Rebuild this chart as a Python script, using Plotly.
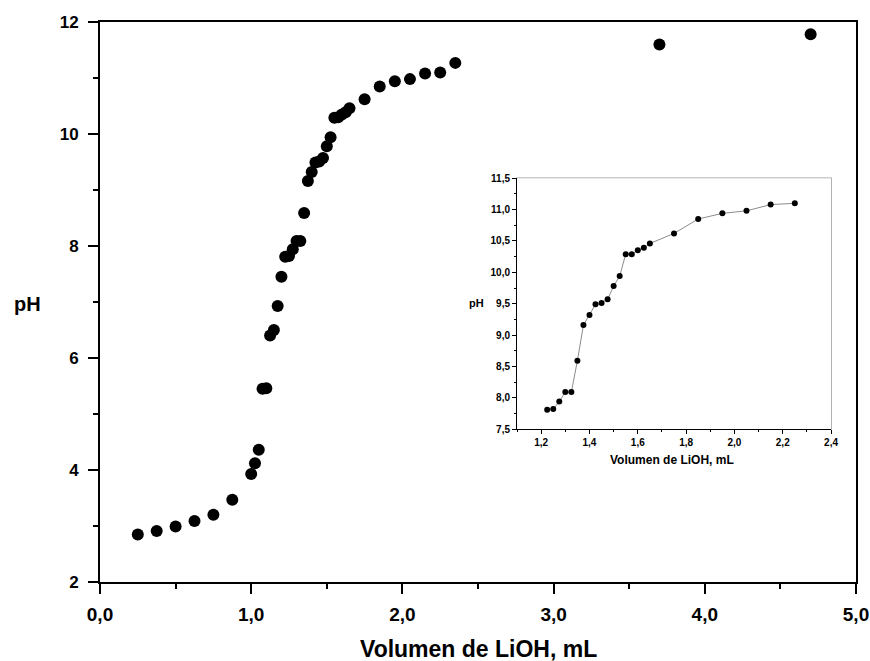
import plotly.graph_objects as go

# Main titration curve
vol_main = [0.25, 0.375, 0.5, 0.625, 0.75, 0.875, 1.0, 1.025, 1.05, 1.075, 1.1, 1.125, 1.15, 1.175, 1.2,
            1.225, 1.25, 1.275, 1.3, 1.325, 1.35, 1.375, 1.4, 1.425, 1.45, 1.475, 1.5, 1.525, 1.55,
            1.575, 1.6, 1.625, 1.65, 1.75, 1.85, 1.95, 2.05, 2.15, 2.25, 2.35, 3.7, 4.7]
ph_main = [2.85, 2.91, 2.99, 3.09, 3.2, 3.47, 3.93, 4.12, 4.36, 5.45, 5.46, 6.4, 6.5, 6.93, 7.45,
           7.81, 7.82, 7.94, 8.09, 8.09, 8.59, 9.16, 9.32, 9.49, 9.51, 9.57, 9.78, 9.94, 10.29,
           10.3, 10.35, 10.39, 10.46, 10.62, 10.85, 10.94, 10.98, 11.08, 11.1, 11.27, 11.6, 11.78]

# Inset (zoom of the equivalence region)
vol_inset = [1.225, 1.25, 1.275, 1.3, 1.325, 1.35, 1.375, 1.4, 1.425, 1.45, 1.475, 1.5, 1.525, 1.55,
             1.575, 1.6, 1.625, 1.65, 1.75, 1.85, 1.95, 2.05, 2.15, 2.25]
ph_inset = [7.81, 7.82, 7.94, 8.09, 8.09, 8.59, 9.16, 9.32, 9.49, 9.51, 9.57, 9.78, 9.94, 10.29,
            10.29, 10.35, 10.39, 10.46, 10.62, 10.85, 10.94, 10.98, 11.08, 11.1]

main_xticks = [0, 1, 2, 3, 4, 5]
main_yticks = [2, 4, 6, 8, 10, 12]
inset_xticks = [1.2, 1.4, 1.6, 1.8, 2.0, 2.2, 2.4]
inset_yticks = [7.5, 8.0, 8.5, 9.0, 9.5, 10.0, 10.5, 11.0, 11.5]

x_title = "Volumen de LiOH, mL"
y_title = "pH"

sans = "Liberation Sans, Arial, sans-serif"

def bold(size):
    return dict(family=sans, size=size, color="black", weight="bold")

fig = go.Figure()
fig.add_trace(go.Scatter(x=vol_main, y=ph_main, mode="markers",
                         marker=dict(size=12, color="black"), xaxis="x", yaxis="y",
                         showlegend=False))
fig.add_trace(go.Scatter(x=vol_inset, y=ph_inset, mode="lines+markers",
                         marker=dict(size=6, color="black"),
                         line=dict(color="#8c8c8c", width=1), xaxis="x2", yaxis="y2",
                         showlegend=False))

fig.update_layout(
    width=870, height=661,
    margin=dict(l=100, r=14, t=22, b=79),
    paper_bgcolor="white", plot_bgcolor="white",
    separators=",.",
    xaxis=dict(range=[0, 5], tickvals=main_xticks, tickformat=".1f", automargin=False,
               showline=True, linecolor="black", linewidth=2, mirror=True,
               ticks="outside", ticklen=10, tickwidth=2, tickcolor="black",
               minor=dict(dtick=0.5, ticks="outside", ticklen=5, tickwidth=2, tickcolor="black"),
               showgrid=False, zeroline=False, ticklabelstandoff=4,
               tickfont=bold(19)),
    yaxis=dict(range=[2, 12], tickvals=main_yticks, automargin=False,
               showline=True, linecolor="black", linewidth=2, mirror=True,
               ticks="outside", ticklen=10, tickwidth=2, tickcolor="black",
               minor=dict(dtick=1, ticks="outside", ticklen=5, tickwidth=2, tickcolor="black"),
               showgrid=False, zeroline=False, ticklabelstandoff=6,
               tickfont=bold(17)),
    xaxis2=dict(domain=[0.5516, 0.967], anchor="y2", range=[1.1, 2.4], tickvals=inset_xticks,
                tickformat=".1f", automargin=False,
                showline=True, linecolor="black", linewidth=1,
                ticks="outside", ticklen=4, tickwidth=1, tickcolor="black",
                minor=dict(dtick=0.1, ticks="outside", ticklen=2, tickwidth=1, tickcolor="black"),
                showgrid=False, zeroline=False,
                tickfont=bold(10)),
    yaxis2=dict(domain=[0.273, 0.721], anchor="x2", range=[7.5, 11.5], tickvals=inset_yticks,
                tickformat=".1f", automargin=False,
                showline=True, linecolor="black", linewidth=1,
                ticks="outside", ticklen=4, tickwidth=1, tickcolor="black",
                minor=dict(dtick=0.25, ticks="outside", ticklen=2, tickwidth=1, tickcolor="black"),
                showgrid=False, zeroline=False,
                tickfont=bold(10)),
    shapes=[
        dict(type="rect", xref="x2 domain", yref="y2 domain", x0=0, x1=1, y0=0, y1=1,
             line=dict(color="#9a9a9a", width=1.5), layer="below"),
    ],
    annotations=[
        dict(text=y_title, x=(27 - 100) / 756, y=(582 - 304) / 560, xref="paper", yref="paper",
             showarrow=False, xanchor="center", yanchor="middle", font=bold(20)),
        dict(text=x_title, x=(478 - 100) / 756, y=(582 - 649) / 560, xref="paper", yref="paper",
             showarrow=False, xanchor="center", yanchor="middle", font=bold(23)),
        dict(text=y_title, x=(476 - 100) / 756, y=(582 - 303) / 560, xref="paper", yref="paper",
             showarrow=False, xanchor="center", yanchor="middle", font=bold(11)),
        dict(text=x_title, x=(672 - 100) / 756, y=(582 - 460) / 560, xref="paper", yref="paper",
             showarrow=False, xanchor="center", yanchor="middle", font=bold(12)),
    ],
)

fig.write_html(
    "out.html",
    config={"displayModeBar": False},
    post_script="document.body.style.margin='0';document.body.style.overflow='hidden';",
)
